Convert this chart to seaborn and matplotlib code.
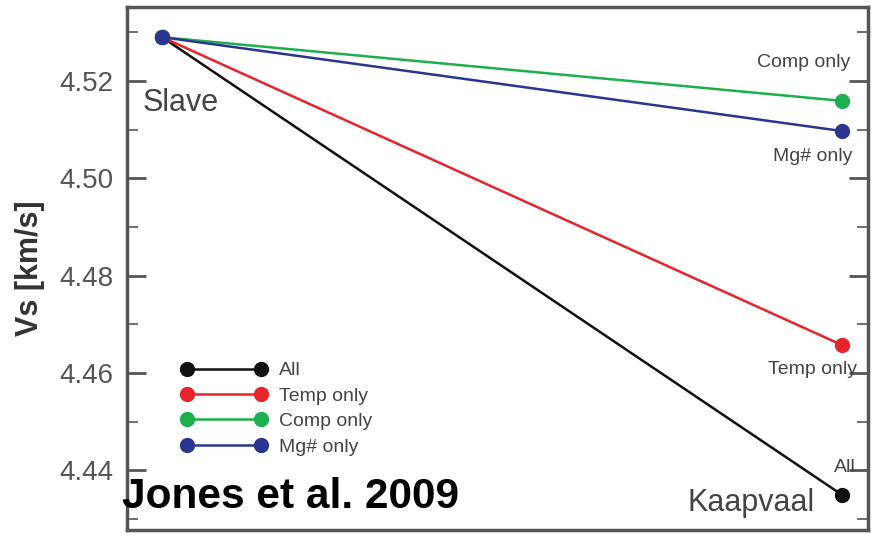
import pandas as pd
import matplotlib.pyplot as plt
import seaborn as sns
from matplotlib.ticker import MultipleLocator

# Data
sites = ["Slave", "Kaapvaal"]
series = ["All", "Temp only", "Comp only", "Mg# only"]
slave_vs = [4.5290, 4.5290, 4.5290, 4.5290]
kaapvaal_vs = [4.4349, 4.4657, 4.5159, 4.5097]
colors = ["#111111", "#e8232b", "#1daf4c", "#2a3592"]

rows = []
for name, a, b in zip(series, slave_vs, kaapvaal_vs):
    rows.append({"pos": 0, "site": sites[0], "Vs": a, "case": name})
    rows.append({"pos": 1, "site": sites[1], "Vs": b, "case": name})
df = pd.DataFrame(rows)

sns.set_style("ticks")
plt.rcParams["font.family"] = ["Liberation Sans", "DejaVu Sans"]

fig = plt.figure(figsize=(8.73, 5.37), dpi=100)
ax = fig.add_axes([127 / 873, 7 / 537, 741 / 873, 523 / 537])

# blue is drawn last so it sits on top at Slave
sns.lineplot(
    data=df,
    x="pos",
    y="Vs",
    hue="case",
    hue_order=series,
    palette=dict(zip(series, colors)),
    marker="o",
    markersize=11,
    markeredgewidth=0,
    linewidth=1.8,
    ax=ax,
    legend=False,
)

ax.set_xlim(-0.0515, 1.038)
ax.set_ylim(4.4277, 4.5352)
ax.set_xticks([])
ax.set_xlabel("")
ax.yaxis.set_major_locator(MultipleLocator(0.02))
ax.yaxis.set_minor_locator(MultipleLocator(0.01))
ax.tick_params(axis="y", which="both", direction="in", right=True,
               labelsize=20, labelcolor="#555555", color="#555555", pad=10)
ax.tick_params(axis="y", which="major", length=14, width=2)
ax.tick_params(axis="y", which="minor", length=8, width=1.2)
ax.yaxis.set_major_formatter(plt.FormatStrFormatter("%.2f"))
ax.set_ylabel("Vs [km/s]", fontsize=22, fontweight="bold", color="#333333", labelpad=10)
for s in ax.spines.values():
    s.set_linewidth(2.5)
    s.set_color("#555555")

# annotations
txt = dict(color="#444444")
ax.text(-0.029, 4.5155, "Slave", fontsize=22, va="center", ha="left", **txt)
ax.text(0.960, 4.4332, "Kaapvaal", fontsize=22, va="center", ha="right", **txt)
ax.text(1.012, 4.5237, "Comp only", fontsize=14, va="center", ha="right", **txt)
ax.text(1.015, 4.5044, "Mg# only", fontsize=14, va="center", ha="right", **txt)
ax.text(1.022, 4.4606, "Temp only", fontsize=14, va="center", ha="right", **txt)
ax.text(1.020, 4.4406, "All", fontsize=14, va="center", ha="right", **txt)

# legend
handles = [plt.Line2D([], [], color=c, marker="o", markersize=11, linewidth=1.8,
                      markeredgewidth=0) for c in colors]
ax.legend(handles, series, loc="upper left", bbox_to_anchor=(0.05, 0.355),
          frameon=False, numpoints=2, handlelength=4.4, fontsize=14,
          labelspacing=0.4, handletextpad=0.6, labelcolor="#444444")

fig.text(122 / 873, 1 - 497 / 537, "Jones et al. 2009", fontsize=30.5,
         fontweight="bold", color="black", va="center", ha="left")

fig.savefig("out.png", dpi=100)
